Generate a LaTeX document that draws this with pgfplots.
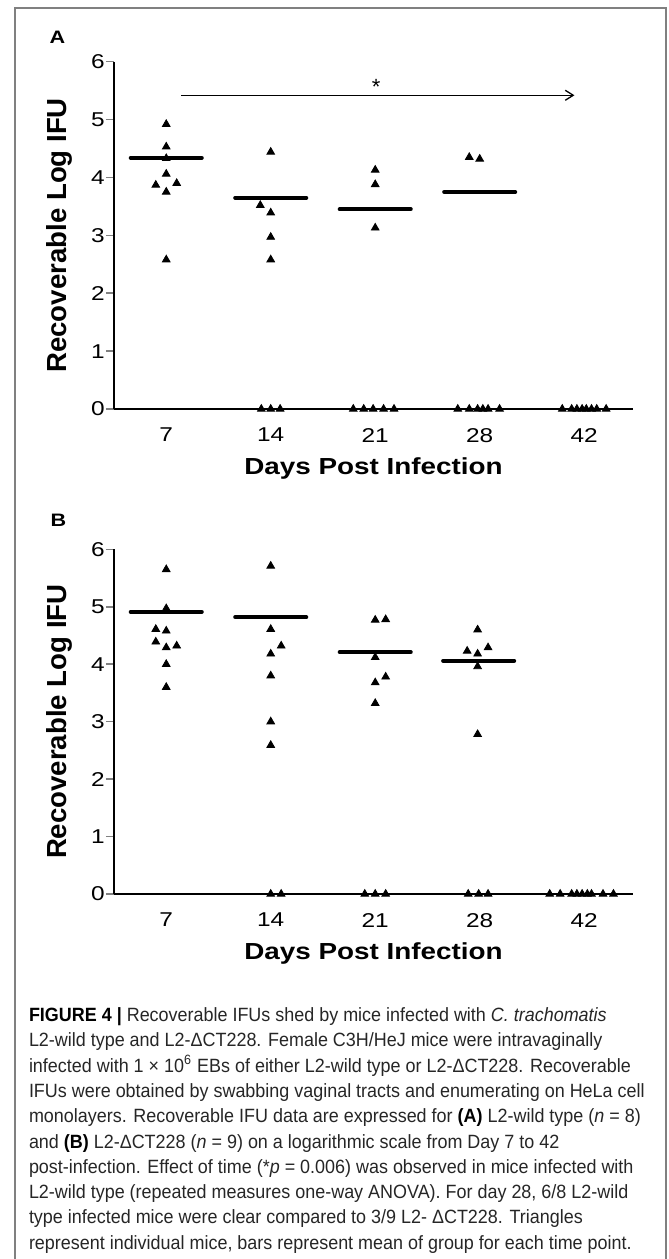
\documentclass[border=0pt]{standalone}
\usepackage{fontspec}
\setmainfont{Liberation Sans}
\newfontfamily\tickfont[FakeStretch=1.22]{Liberation Sans}
\newfontfamily\labfont[FakeStretch=1.2]{Liberation Sans}
\newfontfamily\capfont[FakeStretch=0.935]{Liberation Sans}
\usepackage{pgfplots}
\pgfplotsset{compat=1.18}
\usetikzlibrary{arrows.meta}

\pgfplotsset{
  ifu/.style={
    scale only axis, width=259.5pt,
    xmin=-0.5, xmax=4.467, ymin=0, ymax=6,
    axis x line=bottom, axis y line=left,
    axis line style={-, line width=0.75pt},
    xtick={0,...,4}, xticklabels={7,14,21,28,42},
    ytick={0,...,6},
    tick align=outside, major tick length=4pt,
    xtick style={draw=none}, ytick style={line width=0.75pt},
    /pgf/number format/assume math mode=true,
    tick label style={font=\tickfont\fontsize{10}{12}\selectfont},
    xticklabel style={anchor=north, inner sep=0pt, yshift=-5.4pt},
    yticklabel style={anchor=east, inner sep=0pt, xshift=-0.5pt},
    xlabel={Days Post Infection}, ylabel={Recoverable Log IFU},
    xlabel style={font=\labfont\bfseries\fontsize{11.6}{13}\selectfont,
      at={(axis description cs:0.5,0)}, anchor=center, yshift=-29.5pt},
    ylabel style={font=\bfseries\fontsize{13.8}{15}\selectfont,
      at={(axis description cs:-0.105,0.5)}, anchor=center},
    clip=false,
  },
  mice/.style={only marks, mark=triangle*, mark size=2.2pt, black},
  mean/.style={black, line width=2pt, line cap=round},
}

\begin{document}
\begin{tikzpicture}
\path[use as bounding box] (0,0) rectangle (334.5pt,-629.5pt);
% outer frame, open at the bottom
\draw[black!50, line width=0.8pt] (7.5pt,-629.5pt) -- (7.5pt,-4pt) -- (333pt,-4pt) -- (333pt,-629.5pt);

\node[font=\labfont\bfseries\fontsize{9}{10}\selectfont] at (28.75pt,-18.75pt) {A};
\node[font=\labfont\bfseries\fontsize{9}{10}\selectfont] at (29.25pt,-260pt) {B};

% panel A: L2-wild type
\begin{axis}[ifu, height=173.65pt, at={(57pt,-204.5pt)}, anchor=south west]
\addplot[mice] table {
x y
0 4.92
0 4.53
0 4.33
0 4.06
-0.1 3.87
0.1 3.90
0 3.75
0 2.58
1 4.44
0.9 3.52
1 3.39
1 2.97
1 2.58
0.91 0
1 0
1.09 0
2 4.13
2 3.88
2 3.13
1.79 0
1.89 0
1.98 0
2.08 0
2.18 0
2.9 4.35
3.0 4.32
2.79 0
2.9 0
2.98 0
3.03 0
3.08 0
3.19 0
3.79 0
3.88 0
3.93 0
3.98 0
4.02 0
4.07 0
4.12 0
4.21 0
};
\addplot[mean] coordinates {(-0.34,4.34) (0.34,4.34)};
\addplot[mean] coordinates {(0.66,3.65) (1.34,3.65)};
\addplot[mean] coordinates {(1.66,3.45) (2.34,3.45)};
\addplot[mean] coordinates {(2.66,3.75) (3.34,3.75)};
\draw[line width=0.65pt, -{Straight Barb[length=4pt,width=5pt]}]
  (axis cs:0.144,5.42) -- (axis cs:3.907,5.42);
\node[font=\fontsize{11}{12}\selectfont, yshift=-2.4pt] at (axis cs:2.01,5.64) {*};
\end{axis}

% panel B: L2-DeltaCT228
\begin{axis}[ifu, height=172.35pt, at={(57pt,-447pt)}, anchor=south west]
\addplot[mice] table {
x y
0 5.65
0 4.97
-0.1 4.61
0 4.58
-0.1 4.39
0 4.29
0.1 4.32
0 4.00
0 3.60
1 5.71
1 4.61
1.1 4.32
1 4.18
1 3.80
1 3.00
1 2.59
1 0
1.1 0
2 4.77
2.1 4.78
2 4.12
2.1 3.78
2 3.68
2 3.32
1.9 0
2 0
2.1 0
2.98 4.60
2.88 4.23
3.08 4.29
2.98 4.18
2.98 3.96
2.98 2.78
2.89 0
2.99 0
3.08 0
3.67 0
3.77 0
3.88 0
3.93 0
3.98 0
4.03 0
4.07 0
4.18 0
4.28 0
};
\addplot[mean] coordinates {(-0.34,4.91) (0.34,4.91)};
\addplot[mean] coordinates {(0.66,4.82) (1.34,4.82)};
\addplot[mean] coordinates {(1.66,4.21) (2.34,4.21)};
\addplot[mean] coordinates {(2.65,4.06) (3.33,4.06)};
\end{axis}

% caption
\begin{scope}[every node/.style={anchor=base west, inner sep=0pt,
    font=\capfont\fontsize{9.6}{12}\selectfont, text=black!85}]
\node at (14.3pt,-510.75pt) {{\bfseries\color{black}FIGURE 4 |} Recoverable IFUs shed by mice infected with \textit{C. trachomatis}};
\node at (14.3pt,-523.40pt) {L2-wild type and L2-ΔCT228. Female C3H/HeJ mice were intravaginally};
\node at (14.3pt,-536.05pt) {infected with 1 × 10\textsuperscript{6} EBs of either L2-wild type or L2-ΔCT228. Recoverable};
\node at (14.3pt,-548.70pt) {IFUs were obtained by swabbing vaginal tracts and enumerating on HeLa cell};
\node at (14.3pt,-561.35pt) {monolayers. Recoverable IFU data are expressed for {\bfseries\color{black}(A)} L2-wild type (\textit{n} = 8)};
\node at (14.3pt,-574.00pt) {and {\bfseries\color{black}(B)} L2-ΔCT228 (\textit{n} = 9) on a logarithmic scale from Day 7 to 42};
\node at (14.3pt,-586.65pt) {post-infection. Effect of time (*\textit{p} = 0.006) was observed in mice infected with};
\node at (14.3pt,-599.30pt) {L2-wild type (repeated measures one-way ANOVA). For day 28, 6/8 L2-wild};
\node at (14.3pt,-611.95pt) {type infected mice were clear compared to 3/9 L2- ΔCT228. Triangles};
\node at (14.3pt,-624.60pt) {represent individual mice, bars represent mean of group for each time point.};
\end{scope}
\end{tikzpicture}
\end{document}
